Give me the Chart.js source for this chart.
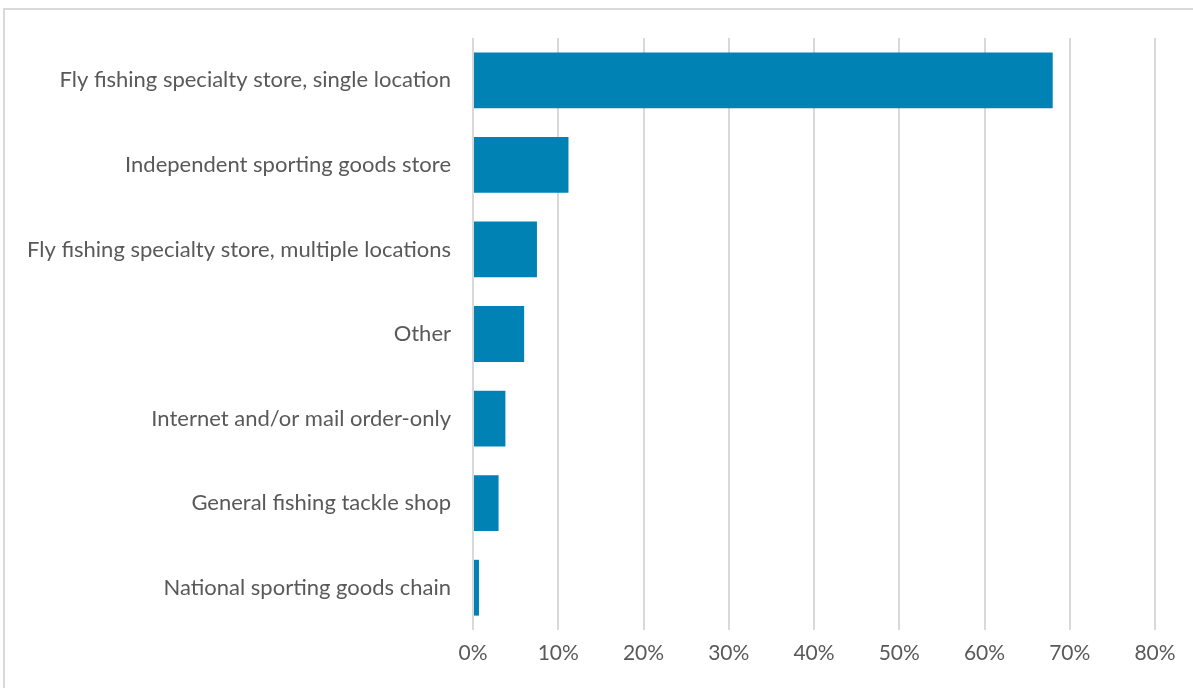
<!DOCTYPE html>
<html>
<head>
<meta charset="utf-8">
<script src="https://cdn.jsdelivr.net/npm/chart.js@4/dist/chart.umd.min.js"></script>
<style>
  html, body { margin: 0; padding: 0; background: #fff; overflow: hidden; }
  #frame { position: absolute; left: 3px; top: 8px; width: 1200px; height: 700px; border: 2px solid #d9d9d9; box-sizing: border-box; }
  #wrap { position: absolute; left: 0; top: 0; width: 1193px; height: 688px; }
</style>
</head>
<body>
<div id="frame"></div>
<div id="wrap"><canvas id="shopChart"></canvas></div>
<script>
// retailer types and share of respondents (%)
const categories = [
  "Fly fishing specialty store, single location",
  "Independent sporting goods store",
  "Fly fishing specialty store, multiple locations",
  "Other",
  "Internet and/or mail order-only",
  "General fishing tackle shop",
  "National sporting goods chain"
];
const shares = [68.0, 11.2, 7.5, 6.0, 3.8, 3.0, 0.7];
const xTicks = [0, 10, 20, 30, 40, 50, 60, 70, 80];

const textColor = "#595959";
const gridColor = "#d9d9d9";
const fontFamily = "Lato, 'Open Sans', sans-serif";

let shopChart = new Chart(document.getElementById("shopChart"), {
  type: 'bar',
  data: {
    labels: categories,
    datasets: [{
      data: shares,
      backgroundColor: "#0082b5",
      borderWidth: 0,
      categoryPercentage: 1,
      barPercentage: 0.66
    }]
  },
  options: {
    indexAxis: 'y',
    responsive: true,
    maintainAspectRatio: false,
    animation: false,
    layout: { padding: { top: 38, right: 38, left: 10, bottom: 0 } },
    plugins: {
      legend: { display: false },
      tooltip: { enabled: false }
    },
    scales: {
      x: {
        min: 0,
        max: 80,
        afterBuildTicks: (scale) => { scale.ticks = xTicks.map(v => ({ value: v })); },
        afterFit: (scale) => { scale.height = 58; },
        ticks: {
          color: textColor,
          font: { family: fontFamily, size: 21 },
          padding: 11,
          callback: (v) => v + "%"
        },
        grid: { color: gridColor, lineWidth: 2, drawTicks: false },
        border: { display: false }
      },
      y: {
        afterFit: (scale) => { scale.width = 463; },
        ticks: {
          color: textColor,
          font: { family: fontFamily, size: 22 },
          padding: 22
        },
        grid: { display: false, drawTicks: false },
        border: { display: false }
      }
    }
  }
});
</script>
</body>
</html>
